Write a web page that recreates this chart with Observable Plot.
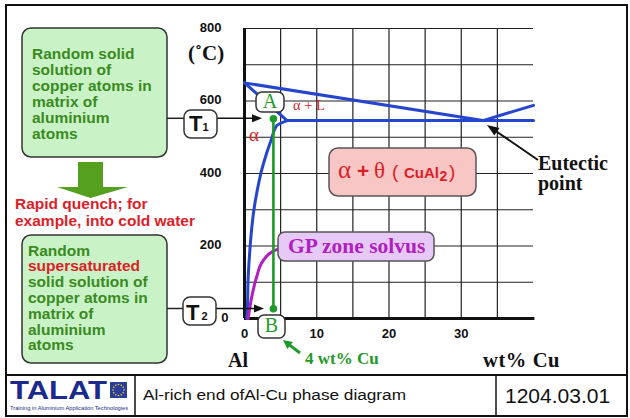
<!DOCTYPE html>
<html>
<head>
<meta charset="utf-8">
<script src="https://cdn.jsdelivr.net/npm/d3@7"></script>
<script src="https://cdn.jsdelivr.net/npm/@observablehq/plot@0.6"></script>
<style>
  html, body { margin: 0; padding: 0; background: #fff; }
  #chart svg { display: block; }
</style>
</head>
<body>
<div id="chart"></div>
<script>
// ---- data (wt% Cu, °C) ----
const liquidus = [[0, 650], [33, 546]];
const liquidusRight = [[33, 546], [40, 588]];
const solidus = [[0, 650], [5.9, 546]];
const eutecticLine = [[5.9, 546], [40, 546]];
const solvus = [[5.9, 546], [4.45, 532], [3.75, 496], [3.05, 455], [2.36, 408], [1.76, 353],
                [1.29, 298], [0.97, 243], [0.74, 188], [0.51, 114], [0.38, 22], [0.3, 0]];
const gpSolvus = [[0.5, 0], [1.0, 59], [1.67, 114], [2.6, 160], [3.75, 183], [4.7, 192]];
const alloyLine = [[4, 551], [4, 27]];
const alloyPoints = [[4, 551], [4, 27]];
const xGrid = [5, 10, 15, 20, 25, 30, 35];
const yGrid = [100, 200, 300, 400, 500, 600, 700, 800];
const xTicks = [0, 10, 20, 30];
const yTicks = [200, 400, 600, 800];
const yZero = [0];

const sans = "'Liberation Sans', Arial, Helvetica, sans-serif";
const serif = "'Liberation Serif', 'Times New Roman', serif";
const blue = "#2445cc";
const green = "#1f9a2a";
const magenta = "#b01fbf";
const red = "#dc1e28";
const textGreen = "#3b8a1f";

const plot = Plot.plot({
  width: 630,
  height: 418,
  marginLeft: 244,
  marginRight: 97,
  marginTop: 28,
  marginBottom: 100,
  x: {domain: [0, 40], axis: null},
  y: {domain: [0, 800], axis: null},
  style: {background: "#fff", fontFamily: sans, overflow: "visible"},
  marks: [
    Plot.ruleX(xGrid, {x: d => d, y1: 0, y2: 800, stroke: "#222", strokeWidth: 1.2}),
    Plot.ruleY(yGrid, {y: d => d, x1: 0, x2: 40, stroke: "#222", strokeWidth: 1.2}),
    Plot.ruleX([0], {x: d => d, y1: 0, y2: 800, stroke: "#111", strokeWidth: 3}),
    Plot.ruleY([0], {y: d => d, x1: 0, x2: 40.2, stroke: "#111", strokeWidth: 3}),
    Plot.line(liquidus, {x: d => d[0], y: d => d[1], stroke: blue, strokeWidth: 3}),
    Plot.line(liquidusRight, {x: d => d[0], y: d => d[1], stroke: blue, strokeWidth: 3}),
    Plot.line(solidus, {x: d => d[0], y: d => d[1], stroke: blue, strokeWidth: 3}),
    Plot.line(eutecticLine, {x: d => d[0], y: d => d[1], stroke: blue, strokeWidth: 3}),
    Plot.line(solvus, {x: d => d[0], y: d => d[1], stroke: blue, strokeWidth: 3, curve: "monotone-y"}),
    Plot.line(gpSolvus, {x: d => d[0], y: d => d[1], stroke: magenta, strokeWidth: 3, curve: "monotone-y"}),
    Plot.line(alloyLine, {x: d => d[0], y: d => d[1], stroke: green, strokeWidth: 2.6}),
    Plot.dot(alloyPoints, {x: d => d[0], y: d => d[1], r: 3.8, fill: green, stroke: "none"}),
    Plot.text(yTicks, {x: 0, y: d => d, text: d => String(d), textAnchor: "end", dx: -23, dy: -1,
      fontSize: 13, fontWeight: "bold", fontFamily: sans, fill: "#111"}),
    Plot.text(yZero, {x: 0, y: d => d, text: d => String(d), textAnchor: "end", dx: -16, dy: -0.5,
      fontSize: 13, fontWeight: "bold", fontFamily: sans, fill: "#111"}),
    Plot.text(xTicks, {x: d => d, y: 0, text: d => String(d), dy: 15.5,
      fontSize: 13, fontWeight: "bold", fontFamily: sans, fill: "#111"})
  ]
});
document.getElementById("chart").appendChild(plot);

// ---- annotations ----
const svg = d3.select(plot);
const g = svg.append("g");

function box(x, y, w, h, r, fill, stroke, sw) {
  g.append("rect").attr("x", x).attr("y", y).attr("width", w).attr("height", h)
    .attr("rx", r).attr("ry", r).attr("fill", fill).attr("stroke", stroke || "#333")
    .attr("stroke-width", sw || 1.5);
}
function txt(x, y, s, size, color, family, weight, anchor) {
  return g.append("text").attr("x", x).attr("y", y).text(s)
    .attr("font-size", size).attr("fill", color).attr("font-family", family || sans)
    .attr("font-weight", weight || "bold").attr("text-anchor", anchor || "start");
}
function arrow(x1, y1, x2, y2, color, width, hl, hw) {
  const dx = x2 - x1, dy = y2 - y1, L = Math.hypot(dx, dy);
  const ux = dx / L, uy = dy / L;
  const bx = x2 - ux * hl, by = y2 - uy * hl;
  g.append("line").attr("x1", x1).attr("y1", y1).attr("x2", bx + ux).attr("y2", by + uy)
    .attr("stroke", color).attr("stroke-width", width);
  const px = -uy * hw / 2, py = ux * hw / 2;
  g.append("path").attr("d", `M${x2},${y2}L${bx + px},${by + py}L${bx - px},${by - py}Z`)
    .attr("fill", color);
}

// slide border and footer
g.append("rect").attr("x", 6).attr("y", 5).attr("width", 621).attr("height", 411)
  .attr("fill", "none").attr("stroke", "#111").attr("stroke-width", 2);
g.append("line").attr("x1", 6).attr("x2", 627).attr("y1", 375).attr("y2", 375).attr("stroke", "#111").attr("stroke-width", 2);
g.append("line").attr("x1", 135).attr("x2", 135).attr("y1", 375).attr("y2", 416).attr("stroke", "#111").attr("stroke-width", 1.5);
g.append("line").attr("x1", 496).attr("x2", 496).attr("y1", 375).attr("y2", 416).attr("stroke", "#111").attr("stroke-width", 1.5);
txt(10, 399, "TALAT", 26, "#1c2a8c", sans, "bold").attr("textLength", 97).attr("lengthAdjust", "spacingAndGlyphs");
txt(10, 410, "Training in Aluminium Application Technologies", 5, "#1c2a8c", sans, "normal")
  .attr("textLength", 118).attr("lengthAdjust", "spacingAndGlyphs");
g.append("rect").attr("x", 110).attr("y", 382).attr("width", 17).attr("height", 16).attr("fill", "#2a3d98");
for (let i = 0; i < 12; i++) {
  const a = i / 12 * Math.PI * 2;
  g.append("circle").attr("cx", 118.5 + 5.5 * Math.cos(a)).attr("cy", 390 + 5.5 * Math.sin(a)).attr("r", 0.8).attr("fill", "#f5d820");
}
txt(143, 400, "Al-rich end ofAl-Cu phase diagram", 15.5, "#111", sans, "normal")
  .attr("textLength", 263).attr("lengthAdjust", "spacingAndGlyphs");
txt(505, 403, "1204.03.01", 21, "#111", sans, "normal");

// left green boxes
box(22, 28, 145, 129, 9, "#c9f3c6", "#333", 1.5);
const topLines = ["Random solid", "solution of", "copper atoms in", "matrix of", "aluminium", "atoms"];
topLines.forEach((s, i) => txt(32, 58.5 + i * 16, s, 15.5, textGreen));
box(22, 235, 145, 128, 9, "#c9f3c6", "#333", 1.5);
const botLines = ["Random", "supersaturated", "solid solution of", "copper atoms in", "matrix of", "aluminium", "atoms"];
botLines.forEach((s, i) => txt(28, 255.5 + i * 15.8, s, 15.5, i === 1 ? red : textGreen));

// big green arrow
g.append("path").attr("d", "M78,162L103,162L103,187L128,187L90.5,198L57,187L78,187Z").attr("fill", "#55a01e");
txt(15, 209, "Rapid quench; for", 15.5, red);
txt(15, 226, "example, into cold water", 15.5, red);

// T1 / T2 arrows and boxes
const y1 = 118.3, y2 = 308.5;
g.append("line").attr("x1", 167).attr("x2", 184).attr("y1", y1).attr("y2", y1).attr("stroke", "#222").attr("stroke-width", 1.5);
arrow(217, y1, 262, y1, "#111", 1.5, 10, 8);
g.append("line").attr("x1", 167).attr("x2", 183).attr("y1", y2).attr("y2", y2).attr("stroke", "#222").attr("stroke-width", 1.5);
arrow(216, y2, 264, y2, "#111", 1.5, 10, 8);
box(184, 110, 33, 28, 7, "#fff", "#333", 1.5);
box(183, 297, 33, 28, 7, "#fff", "#333", 1.5);
txt(189, 130.7, "T", 22, "#111");
txt(202.5, 130.7, "1", 11, "#111");
txt(186, 319.5, "T", 22, "#111");
txt(201.5, 320, "2", 11, "#111");

// A / B boxes
box(256, 92, 28, 20, 6, "#fff", "#333", 1.5);
txt(270, 108.3, "A", 20, green, serif, "normal", "middle");
box(258, 315, 27, 23, 6, "#fff", "#333", 1.5);
txt(271.5, 331.7, "B", 20, green, serif, "normal", "middle");

// region labels
txt(293, 110, "α + L", 14.5, red, serif, "normal");
txt(249, 141, "α", 19, red, serif, "normal");

// alpha + theta box
box(329, 148, 147, 48, 9, "#f9c6c6", "#555", 1.5);
txt(338, 178, "α", 25, red, serif, "normal");
txt(357, 178, "+", 21, red, sans, "bold");
txt(374, 178, "θ", 23, red, serif, "normal");
txt(392, 178, "(", 19, red, sans, "normal");
txt(404, 178, "CuAl", 15, red, sans, "bold");
txt(439.5, 181, "2", 14, red, sans, "bold");
txt(449, 178, ")", 19, red, sans, "normal");

// GP zone box
box(278, 232, 156, 29, 7, "#e6c9f6", "#555", 1.5);
txt(288, 253, "GP zone solvus", 21.5, magenta, serif, "bold");

// eutectic label
arrow(538, 160, 487, 125, "#111", 2, 12, 9);
txt(538, 170, "Eutectic", 20, "#111", serif, "bold");
txt(538, 190, "point", 20, "#111", serif, "bold");

// axis titles
txt(188, 60, "(˚C)", 21, "#111", serif, "bold");
txt(228, 367, "Al", 20, "#111", serif, "bold");
txt(483, 367, "wt% Cu", 20.5, "#111", serif, "bold").attr("letter-spacing", 0.6);
arrow(300, 353, 283, 340, green, 3, 9, 9);
txt(305, 364, "4 wt% Cu", 17, green, serif, "bold");
</script>
</body>
</html>
